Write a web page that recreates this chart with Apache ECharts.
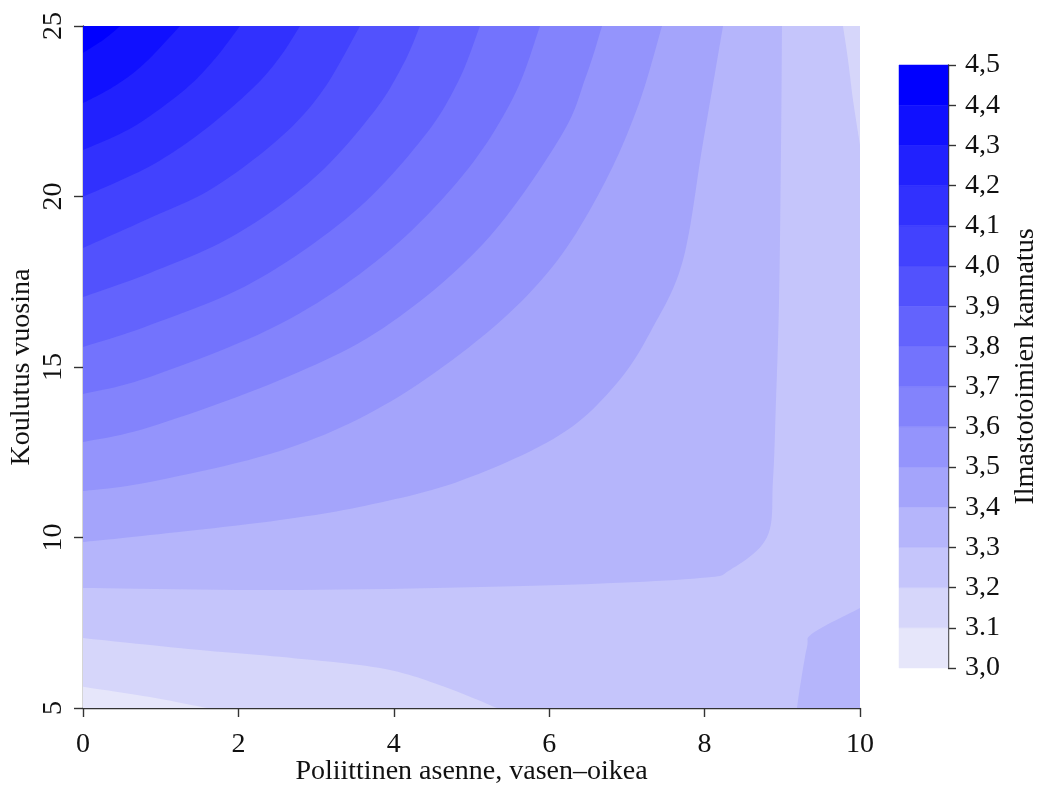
<!DOCTYPE html>
<html><head><meta charset="utf-8">
<script src="https://cdn.jsdelivr.net/npm/echarts@6/dist/echarts.min.js"></script>
<style>html,body{margin:0;padding:0;background:#fff}#c{width:1039px;height:786px}</style>
</head><body><div id="c"></div>
<script>
// ---- data ----
const levels = [3.0,3.1,3.2,3.3,3.4,3.5,3.6,3.7,3.8,3.9,4.0,4.1,4.2,4.3,4.4,4.5];
const levelLabels = ['3,0','3.1','3,2','3,3','3,4','3,5','3,6','3,7','3,8','3,9','4,0','4,1','4,2','4,3','4,4','4,5'];
const bandColors = ['#e6e6fa','#d6d6fa','#c5c5fb','#b5b5fb','#a4a4fb','#9494fc','#8383fc','#7373fd',
                    '#6363fd','#5252fd','#4242fe','#3131fe','#2121fe','#1010ff','#0000ff'];
const xTickLabels = ['0','2','4','6','8','10'];
const yTickLabels = ['5','10','15','20','25'];
const xName = 'Poliittinen asenne, vasen\u2013oikea';
const yName = 'Koulutus vuosina';
const zName = 'Ilmastotoimien kannatus';

// contour lines, [x, y] in data units
const c31 = [[0,5.62],[0.862,5.32],[1.596,5]];
const c32Low = [[0,7.05],[1.506,6.70],[2.535,6.50],[3.822,6.17],[4.595,5.67],[5.328,5]];
const c32High = [[10,21.51],[9.910,22.83],[9.846,24.0],[9.781,25]];
const c33Main = [[0,8.52],[2.793,8.46],[6.139,8.61],[7.941,8.81],[8.327,9.05],[8.803,10.01],[8.880,11.69],[8.919,14.03],[8.958,16.96],[8.983,21.36],[8.996,25]];
const c33Corner = [[10,7.93],[9.395,7.2],[9.318,6.79],[9.228,5.62],[9.189,5]];
const c34 = [[0,9.87],[0.862,10.07],[2.535,10.51],[3.732,10.98],[4.891,11.69],[6.139,13.01],[6.873,14.53],[7.336,16.17],[7.722,18.14],[7.979,21.57],[8.237,25]];
const c35 = [[0,11.36],[0.862,11.63],[2.535,12.54],[3.861,13.86],[5.148,15.91],[6.049,17.96],[6.692,20.31],[7.143,22.65],[7.452,25]];
const c36 = [[0,12.80],[0.862,13.24],[2.535,14.62],[3.861,16.14],[5.148,18.61],[6.139,21.72],[6.474,23.53],[6.680,25]];
const c37 = [[0,14.21],[0.862,14.71],[2.535,16.26],[3.861,18.26],[4.891,20.63],[5.534,22.89],[5.882,25]];
const c38 = [[0,15.59],[0.862,16.23],[2.188,17.49],[3.475,19.52],[4.376,21.72],[4.826,23.36],[5.109,25]];
const c39 = [[0,17.05],[0.862,17.76],[1.931,18.84],[2.960,20.51],[3.732,22.45],[4.118,23.86],[4.337,25]];
const c40 = [[0,18.49],[0.862,19.37],[1.673,20.25],[2.535,21.72],[3.089,23.12],[3.565,25]];
const c41 = [[0,19.99],[0.862,20.89],[1.544,21.92],[2.188,23.18],[2.535,24.09],[2.793,25]];
const c42 = [[0,21.36],[0.644,22.04],[1.287,23.09],[1.673,23.97],[2.02,25]];
const c43 = [[0,22.74],[0.386,23.21],[0.772,23.86],[1.248,25]];
const c44 = [[0,24.21],[0.26,24.59],[0.48,25]];

// superlevel regions (painted in order), each from the contour lines above and plot corners
const regions = [
  {band:0, parts:[['pt',[0,5]],['pt',[10,5]],['pt',[10,25]],['pt',[0,25]]]},
  {band:1, parts:[['curve',c31],['pt',[10,5]],['pt',[10,25]],['pt',[0,25]]]},
  {band:2, parts:[['curve',c32Low],['pt',[10,5]],['curve',c32High],['pt',[0,25]]]},
  {band:3, parts:[['curve',c33Main],['pt',[0,25]]]},
  {band:3, parts:[['curve',c33Corner],['pt',[10,5]]]},
  {band:4, parts:[['curve',c34],['pt',[0,25]]]},
  {band:5, parts:[['curve',c35],['pt',[0,25]]]},
  {band:6, parts:[['curve',c36],['pt',[0,25]]]},
  {band:7, parts:[['curve',c37],['pt',[0,25]]]},
  {band:8, parts:[['curve',c38],['pt',[0,25]]]},
  {band:9, parts:[['curve',c39],['pt',[0,25]]]},
  {band:10, parts:[['curve',c40],['pt',[0,25]]]},
  {band:11, parts:[['curve',c41],['pt',[0,25]]]},
  {band:12, parts:[['curve',c42],['pt',[0,25]]]},
  {band:13, parts:[['curve',c43],['pt',[0,25]]]},
  {band:14, parts:[['curve',c44],['pt',[0,25]]]}
];

function spline(px){
  const n = px.length; if (n < 3) return px.slice();
  const out = [];
  for (let i=0;i<n-1;i++){
    const p0=px[Math.max(i-1,0)], p1=px[i], p2=px[i+1], p3=px[Math.min(i+2,n-1)];
    for (let s=0;s<12;s++){
      const t=s/12, t2=t*t, t3=t2*t;
      const f = k => 0.5*((2*p1[k])+(-p0[k]+p2[k])*t+(2*p0[k]-5*p1[k]+4*p2[k]-p3[k])*t2+(-p0[k]+3*p1[k]-3*p2[k]+p3[k])*t3);
      out.push([f(0), f(1)]);
    }
  }
  out.push(px[n-1]);
  return out;
}

const FONT = "'Liberation Serif','Times New Roman',serif";
const TXT = '#111';
const FS = 28;
const chart = echarts.init(document.getElementById('c'), null, {renderer:'canvas'});

chart.setOption({
  animation:false,
  backgroundColor:'#ffffff',
  grid:[
    {left:83, top:26, width:777, height:682, containLabel:false, outerBoundsMode:'none'},
    {left:899, top:65, width:49, height:603, containLabel:false, outerBoundsMode:'none'}
  ],
  xAxis:[
    {gridIndex:0, type:'value', min:0, max:10, interval:2,
     axisLine:{show:true, onZero:false, lineStyle:{color:'#333', width:1.4}},
     axisTick:{show:true, length:9, lineStyle:{color:'#333', width:1.4}},
     axisLabel:{fontSize:FS, fontFamily:FONT, color:TXT, margin:23,
       formatter:(v)=> xTickLabels[Math.round(v/2)]},
     splitLine:{show:false},
     name:xName, nameLocation:'middle', nameGap:50, nameMoveOverlap:false,
     nameTextStyle:{fontSize:FS, fontFamily:FONT, color:TXT}},
    {gridIndex:1, type:'value', min:0, max:1, show:false}
  ],
  yAxis:[
    {gridIndex:0, type:'value', min:5, max:25, interval:5,
     axisLine:{show:true, onZero:false, lineStyle:{color:'#333', width:1.4}},
     axisTick:{show:true, length:9, lineStyle:{color:'#333', width:1.4}},
     axisLabel:{fontSize:FS, fontFamily:FONT, color:TXT, margin:15, rotate:90,
       formatter:(v)=> yTickLabels[Math.round((v-5)/5)]},
     splitLine:{show:false},
     name:yName, nameLocation:'middle', nameGap:47, nameRotate:90, nameMoveOverlap:false,
     nameTextStyle:{fontSize:FS, fontFamily:FONT, color:TXT}},
    {gridIndex:1, type:'value', position:'right', min:3, max:4.5, interval:0.1,
     axisLine:{show:true, onZero:false, lineStyle:{color:'#333', width:1.4}},
     axisTick:{show:true, length:8, lineStyle:{color:'#333', width:1.4}},
     axisLabel:{fontSize:FS, fontFamily:FONT, color:TXT, margin:17,
       formatter:(v)=>{ const i=Math.round((v-3)*10); return levelLabels[i]===undefined?'':levelLabels[i]; }},
     splitLine:{show:false},
     name:zName, nameLocation:'middle', nameGap:64, nameRotate:90, nameMoveOverlap:false,
     nameTextStyle:{fontSize:FS, fontFamily:FONT, color:TXT}}
  ],
  series:[
    {type:'custom', xAxisIndex:0, yAxisIndex:0, clip:true, silent:true,
     data: regions.map((r,i)=>[i,0]),
     renderItem:(params, api)=>{
       const r = regions[params.dataIndex];
       let pts = [];
       r.parts.forEach(p=>{
         if (p[0]==='pt') pts.push(api.coord(p[1]));
         else pts = pts.concat(spline(p[1].map(q=>api.coord(q))));
       });
       return {type:'polygon', shape:{points:pts}, style:{fill:bandColors[r.band], stroke:null}};
     }, z:1},
    {type:'custom', xAxisIndex:1, yAxisIndex:1, silent:true,
     data: bandColors.map((c,i)=>[i,0]),
     renderItem:(params, api)=>{
       const i = params.dataIndex;
       const a = api.coord([0, levels[i+1]]);
       const b = api.coord([1, levels[i]]);
       return {type:'rect', shape:{x:a[0], y:a[1], width:b[0]-a[0], height:b[1]-a[1]},
               style:{fill:bandColors[i], stroke:bandColors[i], lineWidth:0.5}};
     }, z:1}
  ]
});
</script></body></html>
